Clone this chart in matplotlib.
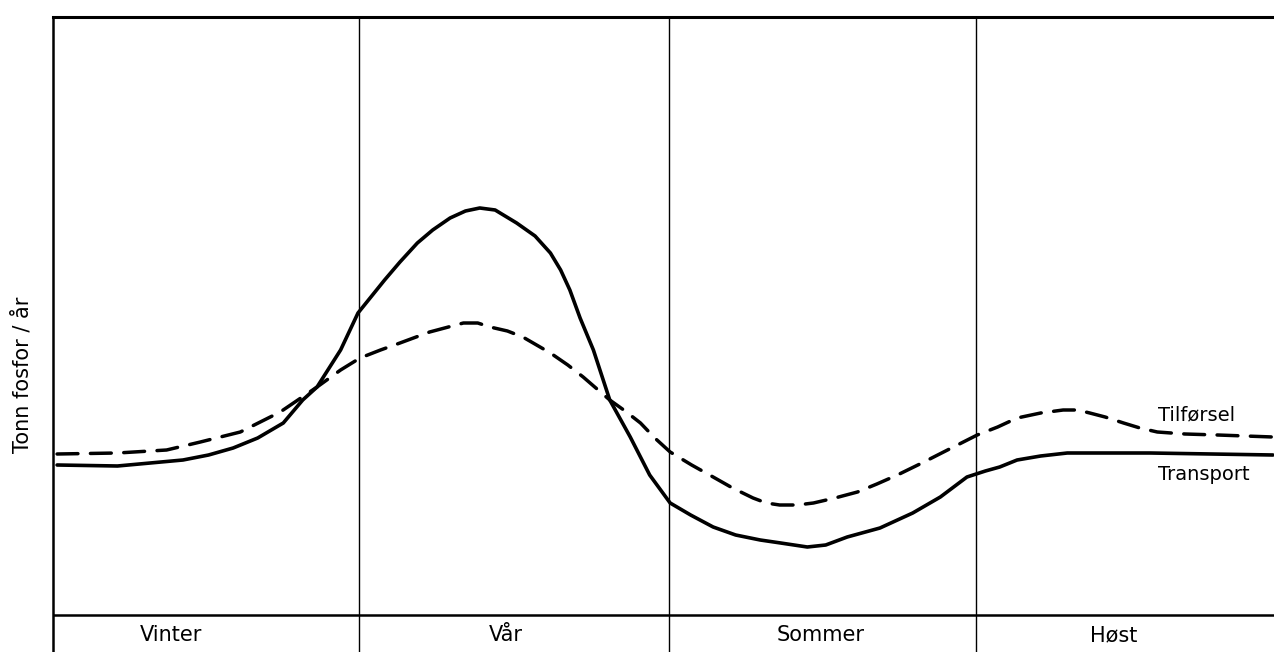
import matplotlib.pyplot as plt

# x in months from start of winter (0-12), y in arbitrary units (tonn fosfor / år)
transport_x = [0.02, 0.61, 1.25, 1.50, 1.74, 1.98, 2.23, 2.42, 2.56, 2.79, 2.96, 3.22,
               3.37, 3.54, 3.69, 3.86, 4.01, 4.15, 4.30, 4.51, 4.69, 4.84, 4.94, 5.03,
               5.13, 5.26, 5.42, 5.62, 5.81, 6.01, 6.21, 6.43, 6.65, 6.89, 7.09, 7.35,
               7.53, 7.74, 8.06, 8.38, 8.65, 8.91, 9.09, 9.23, 9.40, 9.63, 9.89, 10.70,
               11.90]
transport_y = [15.0, 14.9, 15.5, 16.0, 16.7, 17.7, 19.2, 21.5, 22.8, 26.5, 30.2, 33.5,
               35.3, 37.2, 38.5, 39.7, 40.4, 40.7, 40.5, 39.2, 37.9, 36.2, 34.5, 32.5,
               29.7, 26.5, 21.5, 17.8, 14.0, 11.2, 10.0, 8.8, 8.0, 7.5, 7.2, 6.8,
               7.0, 7.8, 8.7, 10.2, 11.8, 13.8, 14.4, 14.8, 15.5, 15.9, 16.2, 16.2,
               16.0]

tilforsel_x = [0.02, 0.61, 1.09, 1.42, 1.81, 2.20, 2.56, 2.79, 2.98, 3.18, 3.37, 3.66,
               3.99, 4.13, 4.25, 4.42, 4.57, 4.84, 5.01, 5.16, 5.42, 5.57, 5.72, 5.86,
               6.01, 6.22, 6.43, 6.62, 6.82, 6.95, 7.08, 7.25, 7.41, 7.62, 7.84, 8.03,
               8.23, 8.47, 8.72, 9.01, 9.21, 9.40, 9.63, 9.85, 9.99, 10.11, 10.26, 10.44,
               10.60, 10.77, 11.04, 11.36, 11.90]
tilforsel_y = [16.1, 16.2, 16.5, 17.3, 18.3, 20.3, 22.8, 24.5, 25.7, 26.5, 27.2, 28.3,
               29.2, 29.2, 28.8, 28.4, 27.8, 26.2, 25.0, 23.8, 21.5, 20.4, 19.2, 17.7,
               16.3, 15.0, 13.8, 12.7, 11.7, 11.2, 11.0, 11.0, 11.2, 11.7, 12.3, 13.1,
               14.0, 15.2, 16.5, 18.0, 18.8, 19.7, 20.2, 20.5, 20.5, 20.2, 19.8, 19.2,
               18.7, 18.3, 18.1, 18.0, 17.8]

seasons = ['Vinter', 'Vår', 'Sommer', 'Høst']
season_centers = [1.13, 4.40, 7.48, 10.34]
season_bounds = [2.97, 6.0, 9.0]

fig = plt.figure(figsize=(12.74, 6.52), dpi=100)
ax = fig.add_axes([53 / 1274, 0.0, 1221 / 1274, 635 / 652])

ax.plot(transport_x, transport_y, color='black', lw=2.6,
        solid_capstyle='round', solid_joinstyle='round')
ax.plot(tilforsel_x, tilforsel_y, color='black', lw=2.5, dashes=(6, 3.6),
        dash_capstyle='round', dash_joinstyle='round')

# season dividers and baseline
for b in season_bounds:
    ax.axvline(b, color='black', lw=1.0)
ax.axhline(0, color='black', lw=1.8)

for name, c in zip(seasons, season_centers):
    ax.text(c, -2.0, name, ha='center', va='center', fontsize=15)

ax.text(10.78, 20.0, 'Tilførsel', ha='left', va='center', fontsize=14)
ax.text(10.78, 14.0, 'Transport', ha='left', va='center', fontsize=14)

ax.set_xlim(-0.02, 11.91)
ax.set_ylim(-3.7, 59.8)
ax.set_xticks([])
ax.set_yticks([])
for s in ['right', 'bottom']:
    ax.spines[s].set_visible(False)
ax.spines['left'].set_linewidth(1.8)
ax.spines['top'].set_linewidth(2.2)

fig.text(22 / 1274, 1 - 375 / 652, 'Tonn fosfor / år', rotation=90,
         ha='center', va='center', fontsize=15)

fig.savefig('out.png', dpi=100)
